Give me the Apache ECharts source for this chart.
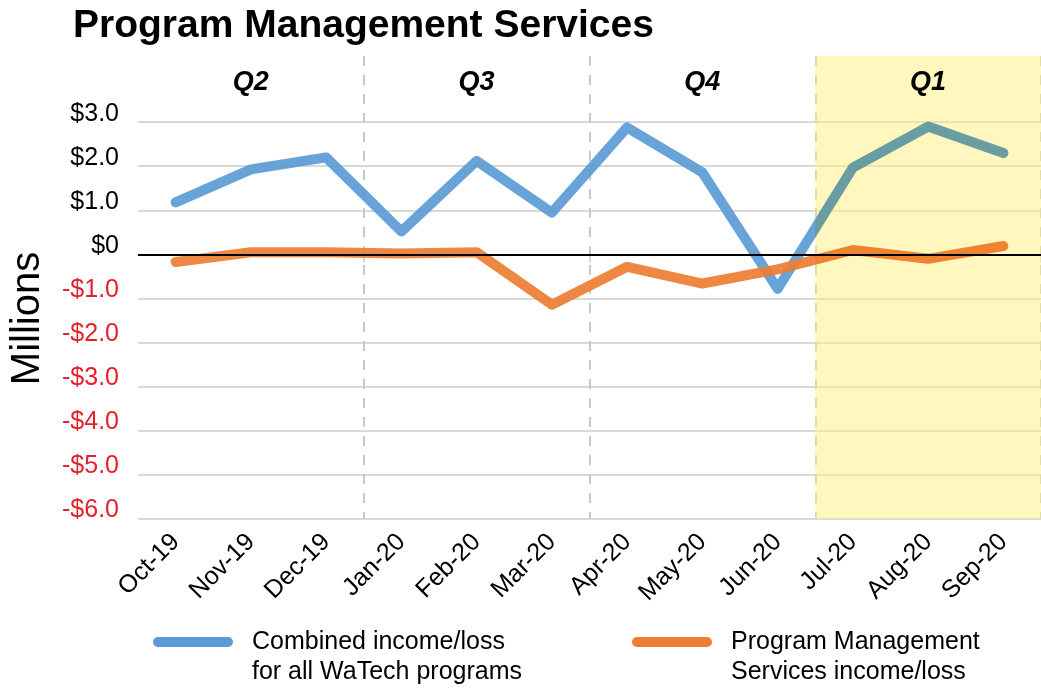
<!DOCTYPE html>
<html>
<head>
<meta charset="utf-8">
<script src="https://cdn.jsdelivr.net/npm/echarts@6/dist/echarts.min.js"></script>
<style>
  html, body { margin: 0; padding: 0; background: #fff; }
  #chart { width: 1041px; height: 688px; }
</style>
</head>
<body>
<div id="chart"></div>
<script>
// Monthly income/loss, in millions of dollars
const months = ['Oct-19', 'Nov-19', 'Dec-19', 'Jan-20', 'Feb-20', 'Mar-20',
                'Apr-20', 'May-20', 'Jun-20', 'Jul-20', 'Aug-20', 'Sep-20'];
const combined = [1.18, 1.93, 2.2, 0.52, 2.12, 0.95, 2.88, 1.86, -0.78, 1.97, 2.9, 2.3];
const pms = [-0.17, 0.05, 0.05, 0.02, 0.05, -1.14, -0.28, -0.66, -0.34, 0.1, -0.1, 0.19];
const quarters = ['Q2', 'Q3', 'Q4', 'Q1'];
const seriesNames = ['Combined income/loss\nfor all WaTech programs',
                     'Program Management\nServices income/loss'];
// Current quarter span, in month slots
const highlightSpan = [9, 12];

const Y_MIN = -6, Y_MAX = 4.5, Y_TOP_LABEL = 3;
const FONT = '"Liberation Sans", Arial, Helvetica, sans-serif';
const BLUE = '#5b9bd5', ORANGE = '#ed7d31', GRID = '#d9d9d9';
// line colours where they run under the yellow band
const BLUE_HL = '#5b969f', ORANGE_HL = '#ed7925';
const HL_FILL = 'rgba(255, 239, 125, 0.5)';

function money(v) {
  if (v > Y_TOP_LABEL) return '';
  if (v === 0) return '$0';
  return (v < 0 ? '-' : '') + '$' + Math.abs(v).toFixed(1);
}

// each month sits in the middle of its slot on the month-slot axis
const atSlot = (arr) => arr.map((v, i) => [i + 0.5, v]);

// split line colours: one per tick (-6 .. 4, then 4.5); hide those above $3
const splitColors = [];
for (let v = Y_MIN; v <= 4; v++) splitColors.push(v <= Y_TOP_LABEL ? GRID : 'rgba(0,0,0,0)');
splitColors.push('rgba(0,0,0,0)');

const quarterBoundary = (i) => i > 0 && i % 3 === 0;

// pill-shaped legend marker; the trailing move-to leaves room for a second text line
const LEGEND_ICON = 'path://M5,0 H75 A5,5 0 0 1 75,10 H5 A5,5 0 0 1 5,0 Z M0,40';
function legendFor(name, color, left) {
  return {
    data: [{ name: name, itemStyle: { color: color } }],
    left: left, top: 622,
    itemWidth: 80, itemHeight: 40, itemGap: 0,
    icon: LEGEND_ICON,
    textStyle: { fontFamily: FONT, fontSize: 25, lineHeight: 30, color: '#000', padding: [0, 0, 0, 14] }
  };
}

const chart = echarts.init(document.getElementById('chart'));
chart.setOption({
  animation: false,
  backgroundColor: '#fff',
  title: {
    text: 'Program Management Services',
    left: 68, top: 2,
    textStyle: { fontFamily: FONT, fontSize: 39, fontWeight: 'bold', color: '#000' }
  },
  legend: [
    legendFor(seriesNames[0], BLUE, 148),
    legendFor(seriesNames[1], ORANGE, 627)
  ],
  visualMap: [
    {
      show: false, type: 'piecewise', seriesIndex: 0, dimension: 0,
      pieces: [
        { gte: 0, lt: highlightSpan[0], color: BLUE },
        { gte: highlightSpan[0], lte: highlightSpan[1], color: BLUE_HL }
      ]
    },
    {
      show: false, type: 'piecewise', seriesIndex: 1, dimension: 0,
      pieces: [
        { gte: 0, lt: highlightSpan[0], color: ORANGE },
        { gte: highlightSpan[0], lte: highlightSpan[1], color: ORANGE_HL }
      ]
    }
  ],
  grid: { left: 136, right: -1, top: 56, bottom: 169, containLabel: false },
  xAxis: [
    {
      type: 'category',
      data: months,
      boundaryGap: true,
      axisLine: { show: true, lineStyle: { color: GRID, width: 2 } },
      axisTick: { show: true, interval: quarterBoundary, length: 8, lineStyle: { color: GRID, width: 2 } },
      splitLine: { show: true, interval: quarterBoundary, lineStyle: { color: '#c8c8c8', width: 2, type: [10, 9] } },
      axisLabel: { interval: 0, rotate: 45, margin: 19, fontFamily: FONT, fontSize: 25, color: '#000' }
    },
    {
      // month-slot axis sharing the same span: slot i covers [i, i + 1]
      type: 'value', min: 0, max: months.length, show: false
    }
  ],
  yAxis: {
    type: 'value',
    min: Y_MIN, max: Y_MAX, interval: 1,
    name: 'Millions',
    nameLocation: 'middle',
    nameRotate: 90,
    nameGap: 90,
    nameTextStyle: { fontFamily: FONT, fontSize: 40, color: '#000', padding: [0, 62, 0, 0] },
    axisLine: { show: false },
    axisTick: { show: false },
    splitLine: { show: true, lineStyle: { color: splitColors, width: 2 } },
    axisLabel: {
      formatter: money,
      margin: 19,
      verticalAlign: 'bottom',
      lineHeight: 17,
      fontFamily: FONT, fontSize: 25,
      color: (v) => (Number(v) < 0 ? '#e5202a' : '#000')
    }
  },
  series: [
    {
      name: seriesNames[0],
      type: 'line',
      xAxisIndex: 1,
      data: atSlot(combined),
      symbol: 'none',
      z: 3,
      lineStyle: { width: 10, opacity: 0.92, cap: 'round', join: 'round' }
    },
    {
      name: seriesNames[1],
      type: 'line',
      xAxisIndex: 1,
      data: atSlot(pms),
      symbol: 'none',
      z: 4,
      lineStyle: { width: 10, opacity: 0.92, cap: 'round', join: 'round' }
    },
    {
      // zero baseline
      type: 'line',
      data: [],
      z: 5,
      silent: true,
      markLine: {
        silent: true,
        symbol: 'none',
        label: { show: false },
        lineStyle: { color: '#000', width: 2, type: 'solid' },
        data: [{ yAxis: 0 }]
      }
    },
    {
      // quarter headings
      type: 'scatter',
      xAxisIndex: 1,
      symbolSize: 0,
      silent: true,
      z: 6,
      itemStyle: { opacity: 1 },
      data: quarters.map((q, i) => [i * 3 + 1.5, 3.9]),
      label: {
        show: true,
        position: 'inside',
        opacity: 1,
        formatter: (p) => quarters[p.dataIndex],
        fontFamily: FONT, fontSize: 27, fontWeight: 'bold', fontStyle: 'italic', color: '#000'
      }
    },
    {
      // highlighted current quarter, behind the lines
      type: 'custom',
      xAxisIndex: 1,
      z: 1,
      silent: true,
      encode: { x: [0, 1] },
      data: [highlightSpan],
      renderItem: (params, api) => {
        const p0 = api.coord([api.value(0), Y_MAX]);
        const p1 = api.coord([api.value(1), Y_MIN]);
        return {
          type: 'rect',
          shape: { x: p0[0], y: p0[1], width: p1[0] - p0[0], height: p1[1] - p0[1] },
          style: { fill: HL_FILL }
        };
      }
    }
  ]
});
</script>
</body>
</html>
